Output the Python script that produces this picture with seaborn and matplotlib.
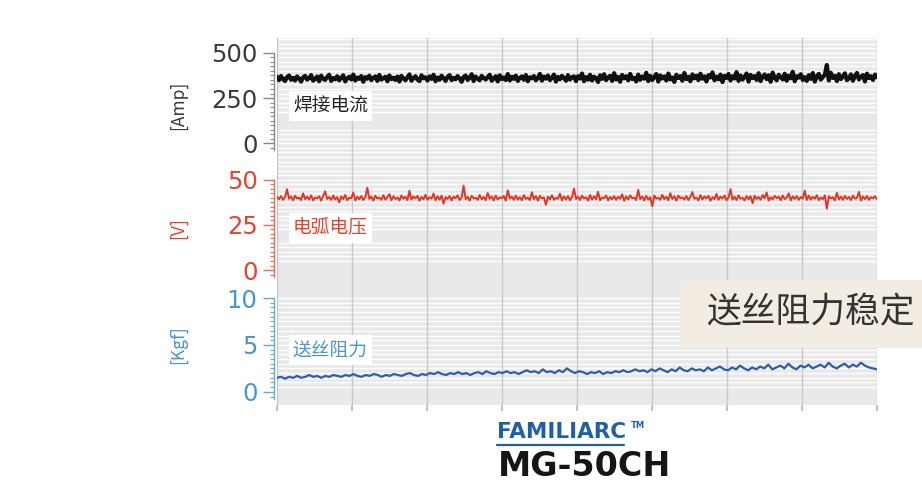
import numpy as np
import pandas as pd
import matplotlib
matplotlib.use("Agg")
import matplotlib.pyplot as plt
from matplotlib.ticker import FixedLocator
from matplotlib.lines import Line2D
import seaborn as sns

# Welding current [Amp]
current = [
    368, 349, 372, 355, 344, 366, 375, 351, 362, 347, 370, 358, 341, 365, 373,
    352, 360, 377, 346, 356, 369, 343, 374, 357, 350, 367, 379, 345, 361, 354,
    371, 348, 363, 376, 342, 359, 368, 353, 380, 347, 364, 356, 372, 340, 366,
    357, 374, 349, 362, 370, 345, 378, 352, 360, 368, 343, 375, 355, 363, 350,
    369, 341, 373, 358, 348, 366, 381, 346, 361, 371, 352, 344, 376, 359, 365,
    347, 370, 356, 379, 343, 364, 351, 374, 360, 345, 368, 377, 349, 362, 354,
    372, 358, 340, 367, 375, 350, 363, 382, 344, 369, 357, 348, 373, 361, 352,
    366, 379, 346, 359, 371, 342, 376, 355, 364, 350, 383, 347, 368, 356, 374,
    345, 362, 370, 351, 378, 343, 365, 359, 372, 348, 361, 384, 346, 369, 357,
    375, 349, 363, 380, 341, 367, 354, 373, 360, 346, 377, 352, 365, 370, 344,
    371, 358, 386, 343, 366, 352, 379, 347, 368, 361, 339, 376, 356, 382, 349,
    364, 373, 345, 388, 353, 367, 340, 378, 359, 371, 348, 384, 355, 362, 342,
    380, 351, 369, 357, 390, 344, 373, 350, 366, 383, 341, 375, 358, 370, 347,
    386, 353, 364, 339, 379, 361, 372, 346, 389, 355, 368, 343, 381, 359, 374,
    349, 385, 357, 370, 342, 377, 364, 392, 348, 369, 354, 380, 338, 373, 361,
    383, 347, 371, 358, 394, 345, 375, 352, 367, 386, 341, 378, 360, 372, 350,
    388, 344, 369, 381, 355, 376, 340, 391, 362, 348, 379, 366, 353, 385, 346,
    374, 359, 396, 343, 371, 363, 382, 350, 366, 345, 377, 356, 389, 341, 370,
    384, 352, 366, 379, 433, 347, 390, 361, 373, 344, 382, 355, 369, 387, 349,
    358, 381, 346, 372, 389, 353, 368, 377, 342, 385, 360, 371, 350, 380, 365,
]

# Arc voltage [V]
voltage = [
    40.6, 39.2, 41.0, 38.9, 40.3, 44.8, 39.5, 40.8, 38.7, 41.2, 39.6, 40.1, 38.8, 42.5, 39.3,
    40.7, 39.0, 41.4, 38.6, 40.2, 39.7, 40.9, 38.5, 41.1, 43.6, 39.4, 40.5, 38.9, 41.3, 39.1,
    40.4, 37.5, 40.8, 39.3, 41.6, 38.7, 40.0, 39.8, 42.9, 38.6, 40.6, 39.2, 41.0, 38.8, 40.3,
    45.6, 39.4, 40.7, 38.5, 41.2, 39.6, 40.1, 38.9, 41.5, 39.0, 40.4, 42.1, 38.7, 40.9, 39.3,
    40.2, 38.6, 41.3, 39.5, 40.6, 38.8, 43.9, 39.1, 40.8, 39.7, 41.1, 38.4, 40.5, 39.2, 41.7,
    38.9, 40.3, 39.6, 42.4, 38.7, 40.9, 39.0, 41.2, 36.8, 40.4, 39.4, 41.0, 38.6, 40.7, 39.8,
    41.4, 38.8, 40.2, 46.8, 39.3, 40.6, 38.5, 41.1, 39.7, 40.0, 38.9, 41.6, 39.2, 40.5, 38.7,
    42.7, 39.5, 40.8, 38.6, 41.3, 39.1, 40.3, 39.8, 41.0, 38.4, 44.2, 39.6, 40.7, 38.9, 41.2,
    39.0, 40.4, 38.7, 41.5, 39.4, 40.1, 38.8, 43.1, 39.3, 40.9, 38.5, 41.1, 39.7, 40.2, 36.2,
    40.6, 39.2, 41.4, 38.9, 40.0, 39.5, 42.3, 38.6, 40.8, 39.1, 41.0, 38.7, 40.4, 45.1, 39.4,
    40.7, 38.8, 41.2, 39.6, 40.3, 38.5, 41.6, 39.0, 40.9, 39.3, 43.4, 38.7, 40.1, 39.8, 41.3,
    38.6, 40.5, 39.2, 41.0, 38.9, 40.6, 39.5, 42.0, 38.4, 40.8, 39.1, 41.4, 39.7, 40.2, 38.8,
    44.4, 39.3, 40.7, 38.6, 41.1, 39.0, 40.4, 35.4, 41.3, 39.6, 40.0, 38.9, 41.7, 39.2, 40.6,
    38.7, 42.6, 39.4, 40.9, 38.5, 41.2, 39.8, 40.3, 39.0, 41.0, 38.8, 40.5, 43.2, 39.5, 40.1,
    38.6, 41.5, 39.1, 40.8, 39.7, 41.1, 38.4, 40.4, 39.3, 42.2, 38.9, 40.7, 39.6, 41.3, 38.7,
    40.2, 44.9, 39.0, 40.6, 38.8, 41.4, 39.5, 40.0, 38.6, 41.0, 39.2, 40.9, 37.0, 41.2, 39.4,
    40.5, 38.9, 41.6, 39.7, 43.0, 38.5, 40.3, 39.1, 41.1, 39.8, 40.7, 38.7, 41.3, 39.3, 40.1,
    42.5, 38.6, 40.8, 39.4, 41.0, 38.9, 40.4, 39.6, 44.0, 38.8, 41.2, 39.0, 40.6, 39.5, 41.5,
    38.7, 40.2, 39.2, 41.4, 34.0, 40.9, 39.7, 40.3, 38.6, 42.8, 39.1, 40.7, 38.9, 41.1, 39.4,
    40.5, 38.8, 41.3, 39.6, 40.0, 43.3, 38.5, 40.8, 39.3, 41.0, 38.9, 40.4, 39.7, 40.9, 39.2,
]

# Wire feed resistance [Kgf]
resistance = [
    1.5, 1.6, 1.4, 1.6, 1.5, 1.7, 1.5, 1.6, 1.8, 1.6, 1.7, 1.5, 1.7, 1.6, 1.8,
    1.7, 1.6, 1.8, 1.7, 1.9, 1.7, 1.6, 1.8, 1.7, 1.9, 1.8, 1.6, 1.8, 1.7, 1.9,
    1.8, 1.7, 1.9, 2.0, 1.8, 1.7, 1.9, 1.8, 2.0, 1.9, 2.1, 1.9, 1.8, 2.0, 1.9,
    2.1, 1.9, 2.0, 1.8, 2.0, 2.1, 1.9, 2.2, 2.0, 1.9, 2.1, 2.0, 2.2, 2.0, 2.1,
    1.9, 2.1, 2.3, 2.1, 2.2, 2.0, 2.4, 2.1, 2.2, 2.0, 2.3, 2.1, 2.5, 2.2, 2.0,
    2.2, 2.1, 1.9, 2.1, 2.0, 2.2, 1.9, 2.1, 2.0, 2.2, 2.1, 2.3, 2.1, 2.2, 2.4,
    2.2, 2.3, 2.1, 2.4, 2.2, 2.5, 2.3, 2.1, 2.4, 2.2, 2.6, 2.3, 2.2, 2.5, 2.3,
    2.4, 2.2, 2.6, 2.3, 2.5, 2.7, 2.4, 2.3, 2.6, 2.4, 2.8, 2.5, 2.3, 2.6, 2.4,
    2.7, 2.5, 2.9, 2.4, 2.6, 2.8, 2.5, 3.0, 2.6, 2.4, 2.8, 2.6, 2.9, 2.5, 2.7,
    2.9, 2.6, 3.1, 2.7, 2.5, 2.8, 3.0, 2.6, 2.9, 2.7, 3.1, 2.8, 2.6, 2.5, 2.4,
]

panel_titles = ["焊接电流", "电弧电压", "送丝阻力"]
unit_labels = ["[Amp]", "[V]", "[Kgf]"]
y_ticks = [[0, 250, 500], [0, 25, 50], [0, 5, 10]]
callout = "送丝阻力稳定"
brand = "FAMILIARC"
model = "MG-50CH"

sns.set_theme(style="white")
plt.rcParams["font.family"] = ["DejaVu Sans"]
CJK = ["Noto Sans CJK SC", "DejaVu Sans"]

series = [current, voltage, resistance]
frames = [pd.DataFrame({"t": np.linspace(0, 8, len(s)), "v": s}) for s in series]

W, H = 922, 501
fig = plt.figure(figsize=(W / 100, H / 100), dpi=100)
fig.patch.set_facecolor("white")

left, right = 277 / W, 877 / W
bounds_px = [(38, 160), (160, 283), (283, 405)]
ylims = [(-94, 583), (-7.2, 61), (-1.4, 11.6)]
minor_steps = [25, 2.5, 0.5]
spine_low = [-40, -4, -0.8]
# bands of the background left without white rules
grid_gaps = [[(80, 170)], [(-10, 4), (17, 21)], [(10.2, 13), (-2, 0.3)]]
line_colors = ["#111111", "#e53424", "#2f5cb0"]
tick_colors = ["#3a3a3a", "#e8412c", "#4a94d0"]
spine_colors = ["#8a8a8a", "#ee6a5a", "#6aa8da"]
line_widths = [3.0, 1.4, 1.6]
label_y_px = [106, 228, 350]
unit_y_px = [105, 228, 345]

for i in range(3):
    top_px, bot_px = bounds_px[i]
    ax = fig.add_axes([left, 1 - bot_px / H, right - left, (bot_px - top_px) / H])
    ax.set_facecolor("#e9e9e9")
    ax.set_xlim(0, 8)
    ax.set_ylim(*ylims[i])
    step = minor_steps[i]
    lo, hi = ylims[i]
    rules = [k * step for k in range(int(np.ceil(lo / step)), int(np.floor(hi / step)) + 1)]
    rules = [r for r in rules if not any(a <= r <= b for a, b in grid_gaps[i])]
    ax.hlines(rules, 0, 8, colors="white", lw=1.0, zorder=0.5)
    minors = [k * step for k in range(int(np.ceil(spine_low[i] / step)),
                                      int(round(y_ticks[i][-1] / step)) + 1)]
    ax.yaxis.set_minor_locator(FixedLocator(minors))
    ax.set_yticks(y_ticks[i])
    ax.set_xticks(np.arange(0, 9))
    ax.grid(False)
    ax.grid(which="major", axis="x", color="#c8c8c8", lw=1.0, ls="-")
    ax.set_axisbelow(True)
    for s in ["top", "right", "bottom"]:
        ax.spines[s].set_visible(False)
    ax.spines["left"].set_position(("outward", 2))
    ax.spines["left"].set_bounds(spine_low[i], y_ticks[i][-1])
    ax.spines["left"].set_color(spine_colors[i])
    ax.spines["left"].set_linewidth(1.0)
    ax.tick_params(axis="y", which="major", direction="out", length=8, width=1,
                   color=spine_colors[i], labelcolor=tick_colors[i], labelsize=17.5,
                   pad=4, left=True)
    ax.tick_params(axis="y", which="minor", direction="out", length=3, width=0.8,
                   color=spine_colors[i], left=True)
    ax.tick_params(axis="x", which="both", bottom=(i == 2), length=4, color="#bbbbbb",
                   labelbottom=False)
    sns.lineplot(data=frames[i], x="t", y="v", ax=ax, color=line_colors[i],
                 lw=line_widths[i], legend=False)
    ax.set_xlabel("")
    ax.set_ylabel("")
    # panel name tag inside the plot
    ax.text(293 / W, 1 - label_y_px[i] / H, panel_titles[i], transform=fig.transFigure,
            family=CJK, fontsize=13.5, color=tick_colors[i] if i else "#222222",
            va="center", ha="left",
            bbox=dict(facecolor="white", edgecolor="none", pad=3))
    fig.text(178 / W, 1 - unit_y_px[i] / H, unit_labels[i],
             rotation=90, ha="center", va="center", fontsize=12.5,
             color=tick_colors[i], family=CJK)

# callout box
fig.patches.append(plt.Rectangle((680 / W, 1 - 348 / H), (W - 680) / W, 68 / H,
                                 transform=fig.transFigure, facecolor="#f2ece2",
                                 edgecolor="none", zorder=5))
fig.text(810 / W, 1 - 313 / H, callout, family=CJK, fontsize=25, color="#333333",
         ha="center", va="center", zorder=6)

# brand and model
fig.text(562 / W, 1 - 432 / H, brand, fontsize=15.5, fontweight="heavy", color="#1f5fa8",
         ha="center", va="center")
fig.text(638 / W, 1 - 426 / H, "TM", fontsize=6, fontweight="bold", color="#1f5fa8",
         ha="center", va="center")
fig.lines.append(Line2D([497 / W, 624 / W], [1 - 445 / H, 1 - 445 / H],
                        transform=fig.transFigure, color="#1f5fa8", lw=1.6))
fig.text(585 / W, 1 - 467 / H, model, fontsize=24, fontweight="bold", color="#151515",
         ha="center", va="center")

fig.savefig("out.png", dpi=100)
